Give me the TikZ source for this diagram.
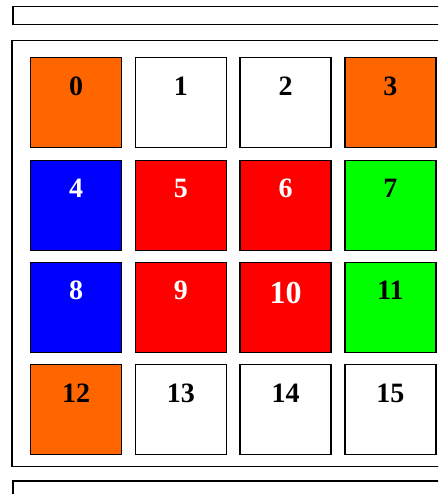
\documentclass[tikz,border=0pt]{standalone}
\usepackage{fontspec}
\setmainfont{Liberation Serif}
\definecolor{tileorange}{HTML}{FF6600}
\definecolor{tileblue}{HTML}{0000FF}
\definecolor{tilered}{HTML}{FF0000}
\definecolor{tilegreen}{HTML}{00FF00}
\begin{document}
\begin{tikzpicture}[x=1pt, y=-1pt,
  tile/.style={draw, line width=1.3pt, minimum width=91pt, minimum height=90pt, inner sep=0pt},
  num/.style={anchor=base, inner sep=0pt, font=\fontsize{28}{30}\selectfont\bfseries},
  frame/.style={draw, line width=1.2pt}]
\clip (0,0) rectangle (438,494);
\draw[frame] (13,6.5) rectangle (460,24.3);
\draw[frame] (12,40.5) rectangle (460,466.7);
\draw[frame] (13,481) rectangle (460,520);
% row 0
\node[tile, fill=tileorange] (c0) at (76,102.8) {};
\node[tile, fill=white] (c1) at (180.8,102.8) {};
\node[tile, fill=white] (c2) at (285.6,102.8) {};
\node[tile, fill=tileorange] (c3) at (390.4,102.8) {};
% row 1
\node[tile, fill=tileblue] (c4) at (76,205.2) {};
\node[tile, fill=tilered] (c5) at (180.8,205.2) {};
\node[tile, fill=tilered] (c6) at (285.6,205.2) {};
\node[tile, fill=tilegreen] (c7) at (390.4,205.2) {};
% row 2
\node[tile, fill=tileblue] (c8) at (76,307.5) {};
\node[tile, fill=tilered] (c9) at (180.8,307.5) {};
\node[tile, fill=tilered] (c10) at (285.6,307.5) {};
\node[tile, fill=tilegreen] (c11) at (390.4,307.5) {};
% row 3
\node[tile, fill=tileorange] (c12) at (76,409.8) {};
\node[tile, fill=white] (c13) at (180.8,409.8) {};
\node[tile, fill=white] (c14) at (285.6,409.8) {};
\node[tile, fill=white] (c15) at (390.4,409.8) {};
% numbers
\node[num] (n0) at ([yshift=-38pt]c0.north) {0};
\node[num] (n1) at ([yshift=-38pt]c1.north) {1};
\node[num] (n2) at ([yshift=-38pt]c2.north) {2};
\node[num] (n3) at ([yshift=-38pt]c3.north) {3};
\node[num, text=white] (n4) at ([yshift=-38pt]c4.north) {4};
\node[num, text=white] (n5) at ([yshift=-38pt]c5.north) {5};
\node[num, text=white] (n6) at ([yshift=-38pt]c6.north) {6};
\node[num] (n7) at ([yshift=-38pt]c7.north) {7};
\node[num, text=white] (n8) at ([yshift=-38pt]c8.north) {8};
\node[num, text=white] (n9) at ([yshift=-38pt]c9.north) {9};
\node[num, text=white, font=\fontsize{32}{34}\selectfont\bfseries] (n10) at ([yshift=-42pt]c10.north) {10};
\node[num] (n11) at ([yshift=-38pt]c11.north) {11};
\node[num] (n12) at ([yshift=-38pt]c12.north) {12};
\node[num] (n13) at ([yshift=-38pt]c13.north) {13};
\node[num] (n14) at ([yshift=-38pt]c14.north) {14};
\node[num] (n15) at ([yshift=-38pt]c15.north) {15};
\end{tikzpicture}
\end{document}
